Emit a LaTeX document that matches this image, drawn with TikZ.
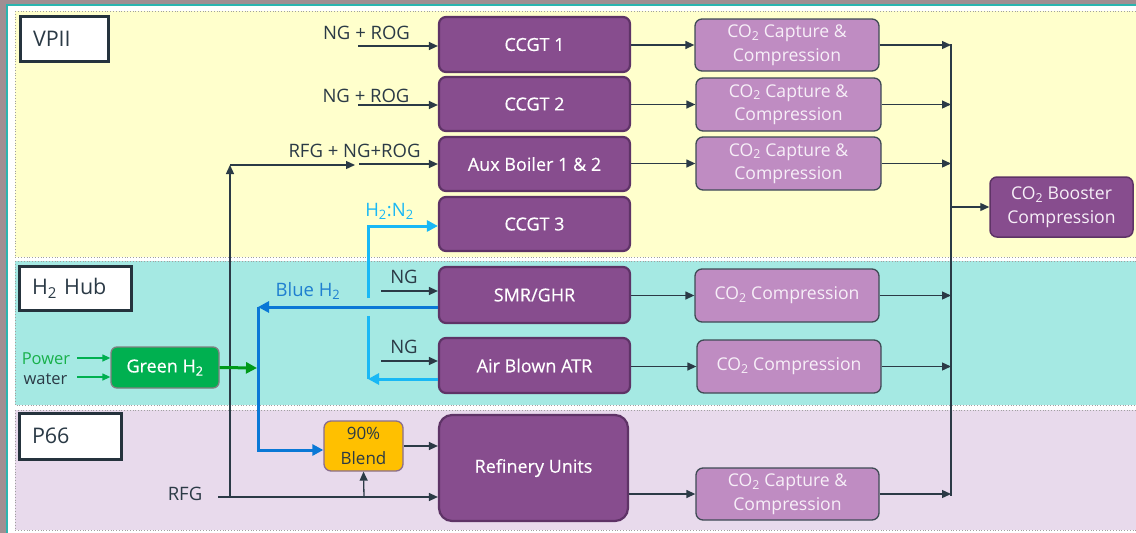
\documentclass[tikz,border=0pt]{standalone}
\usepackage{fontspec}
\setmainfont{Open Sans}
\newfontfamily\mySemi[FakeBold=0.4]{Open Sans}
\usetikzlibrary{arrows.meta}
\definecolor{photo}{HTML}{A08E92}
\definecolor{teal}{HTML}{2BB5B0}
\definecolor{yband}{HTML}{FFFFCC}
\definecolor{cband}{HTML}{A5E9E3}
\definecolor{pband}{HTML}{E8DAEC}
\definecolor{bandedge}{HTML}{A0A0A0}
\definecolor{boxfill}{HTML}{874D8E}
\definecolor{boxedge}{HTML}{5E3366}
\definecolor{lightfill}{HTML}{BF8CC2}
\definecolor{lightedge}{HTML}{3F4B55}
\definecolor{lighttext}{HTML}{F7EFF8}
\definecolor{ink}{HTML}{2B3A46}
\definecolor{tagedge}{HTML}{25333D}
\definecolor{blueh}{HTML}{0A78D6}
\definecolor{bluetext}{HTML}{1F7FD0}
\definecolor{cyanh}{HTML}{19B8F5}
\definecolor{greenfill}{HTML}{00B050}
\definecolor{greenline}{HTML}{009A1A}
\definecolor{greentext}{HTML}{17B04A}
\definecolor{blendfill}{HTML}{FFC000}
\definecolor{blendedge}{HTML}{8A6E8E}
\newcommand\myBoxFont{\mySemi\fontsize{18}{21}\selectfont}
\newcommand\myCapFont{\fontsize{17.6}{23.5}\selectfont}
\newcommand\myLabFont{\fontsize{18.5}{21}\selectfont}
\newcommand\myTagFont{\fontsize{21.5}{26}\selectfont}
\newcommand\myBlendFont{\fontsize{17}{25}\selectfont}
\tikzset{
  dbox/.style={draw=boxedge, line width=2.2pt, fill=boxfill, rounded corners=7pt, text=white, font=\myBoxFont, minimum width=191pt, minimum height=55pt, inner sep=0pt},
  lbox/.style={draw=lightedge, line width=1.3pt, fill=lightfill, rounded corners=7pt, text=lighttext, font=\myCapFont, align=center, minimum width=184pt, minimum height=52pt, inner sep=0pt},
  tagbox/.style={draw=tagedge, line width=3pt, fill=white, font=\myTagFont, text=ink, align=left, inner xsep=13pt, inner ysep=0pt, minimum height=45pt},
  lab/.style={font=\myLabFont, text=ink, inner sep=0pt, anchor=base},
  arr/.style={draw=ink, line width=1.3pt, -{Triangle[length=9pt,width=8pt]}},
  ln/.style={draw=ink, line width=1.3pt},
  bluearr/.style={draw=blueh, line width=3pt, -{Triangle[length=11pt,width=11pt]}},
  cyanarr/.style={draw=cyanh, line width=3pt, -{Triangle[length=11pt,width=11pt]}},
  greenarr/.style={draw=greenline, line width=3pt, -{Triangle[length=11pt,width=11pt]}},
  thingreen/.style={draw=greenfill, line width=1.3pt, -{Triangle[length=8pt,width=7pt]}},
  band/.style={draw=bandedge, line width=0.8pt, dotted}
}
\begin{document}
\begin{tikzpicture}[x=1pt,y=-1pt]
\useasboundingbox (0,0) rectangle (1136,533);
% backdrop
\fill[photo] (0,0) rectangle (1136,533);
\fill[white] (7,5) rectangle (1136,533);
\draw[teal, line width=2pt] (7,533) -- (7,5) -- (1136,5);
% bands
\fill[yband] (15,11) rectangle (1140,257);
\draw[band] (15,11) rectangle (1140,257);
\fill[cband] (15,261) rectangle (1140,405);
\draw[band] (15,261) rectangle (1140,405);
\fill[pband] (15,410) rectangle (1140,530);
\draw[band] (15,410) rectangle (1140,530);
% section tags
\node[tagbox, text width=62pt] (vpii) at (64,38.5) {VPII};
\node[tagbox, text width=86pt, minimum height=44pt] (hub) at (75,288) {H\textsubscript{2} Hub};
\node[tagbox, text width=76pt, minimum height=46pt] (p66) at (70,436) {P66};
% process boxes
\node[dbox] (ccgt1) at (534.5,44.5) {CCGT 1};
\node[dbox, minimum height=54pt] (ccgt2) at (534.5,104) {CCGT 2};
\node[dbox, minimum height=54pt] (aux) at (534.5,164) {Aux Boiler 1 \& 2};
\node[dbox, minimum height=54pt] (ccgt3) at (534.5,224) {CCGT 3};
\node[dbox, minimum height=56pt] (smr) at (534.5,295) {SMR/GHR};
\node[dbox] (atr) at (534.5,365.5) {Air Blown ATR};
\node[dbox, minimum width=189pt, minimum height=106pt, rounded corners=13pt] (ref) at (533.5,468) {Refinery Units};
\node[dbox, minimum width=143pt, minimum height=60pt, align=center, font=\myCapFont, text=lighttext, line width=1.5pt] (boost) at (1061.5,207) {CO\textsubscript{2} Booster\\Compression};
% capture boxes
\node[lbox] (cap1) at (787,45) {CO\textsubscript{2} Capture \&\\Compression};
\node[lbox, minimum width=185pt, minimum height=53pt] (cap2) at (788.5,104.5) {CO\textsubscript{2} Capture \&\\Compression};
\node[lbox, minimum width=185pt, minimum height=53pt] (cap3) at (788.5,163.5) {CO\textsubscript{2} Capture \&\\Compression};
\node[lbox, minimum height=53pt] (comp1) at (787,295.5) {CO\textsubscript{2} Compression};
\node[lbox, minimum height=53pt] (comp2) at (789,366.5) {CO\textsubscript{2} Compression};
\node[lbox, minimum width=183pt] (cap4) at (787.5,494) {CO\textsubscript{2} Capture \&\\Compression};
% hydrogen boxes
\node[draw=gray, line width=1.3pt, fill=greenfill, rounded corners=6pt, minimum width=108pt, minimum height=41pt, inner sep=0pt, text=white, font=\myBoxFont] (green) at (165,367.5) {Green H\textsubscript{2}};
\node[draw=blendedge, line width=1.3pt, fill=blendfill, rounded corners=7pt, minimum width=79pt, minimum height=50pt, inner sep=0pt, text=ink, font=\myBlendFont, align=center] (blend) at (363.5,446) {90\%\\Blend};
% input labels
\node[lab] (t1) at (366.5,39) {NG + ROG};
\node[lab] (t2) at (366,102) {NG + ROG};
\node[lab] (t3) at (354.5,157) {RFG + NG+ROG};
\node[lab, text=cyanh] (t4) at (389.5,216) {H\textsubscript{2}:N\textsubscript{2}};
\node[lab] (t5) at (404,283) {NG};
\node[lab] (t6) at (404,353) {NG};
\node[lab, text=bluetext] (t7) at (308,296) {Blue H\textsubscript{2}};
\node[lab, text=greentext, font=\fontsize{16.5}{20}\selectfont] (t8) at (46,364) {Power};
\node[lab, font=\fontsize{16.5}{20}\selectfont] (t9) at (45.5,384) {water};
\node[lab] (t10) at (185,500) {RFG};
% coordinates
\coordinate (in1) at (358,46);
\coordinate (in2) at (358,105);
\coordinate (in3) at (359,164);
\coordinate (rfgs) at (218,497);
\coordinate (rfgv) at (230,497);
\coordinate (rfgt) at (230,165);
\coordinate (rfge) at (355,165);
\coordinate (rfgb) at (364,497);
\coordinate (ng1) at (381,291);
\coordinate (ng2) at (381,361);
\coordinate (ctop) at (951,44);
\coordinate (cbot) at (951,496);
\coordinate (cb) at (951,207);
\coordinate (cy1) at (368,379);
\coordinate (cy2) at (368,316);
\coordinate (cy3) at (368,298);
\coordinate (cy4) at (368,226);
\coordinate (bl1) at (258,307);
\coordinate (bl2) at (258,450);
\coordinate (gr) at (257,368);
\coordinate (pw) at (77,358);
\coordinate (wt) at (77,377);
% fuel inputs
\draw[arr] (in1) -- (in1 -| ccgt1.west);
\draw[arr] (in2) -- (in2 -| ccgt2.west);
\draw[arr] (in3) -- (in3 -| aux.west);
\draw[arr] (rfgv) -- (rfgt);
\draw[arr] (rfgt) -- (rfge);
\draw[arr] (ng1) -- (ng1 -| smr.west);
\draw[arr] (ng2) -- (ng2 -| atr.west);
\draw[arr] (rfgs) -- (rfgs -| ref.west);
\draw[arr] (rfgb) -- (blend.south);
\draw[arr] (blend.east) -- (blend.east -| ref.west);
% to capture
\draw[arr] (ccgt1.east |- cap1.west) -- (cap1.west);
\draw[arr] (ccgt2.east |- cap2.west) -- (cap2.west);
\draw[arr] (aux.east |- cap3.west) -- (cap3.west);
\draw[arr] (smr.east |- comp1.west) -- (comp1.west);
\draw[arr] (atr.east |- comp2.west) -- (comp2.west);
\draw[arr] (ref.east |- cap4.west) -- (cap4.west);
% collector
\draw[ln] (ctop) -- (cbot);
\draw[arr] (cap1.east) -- (cap1.east -| ctop);
\draw[arr] (cap2.east) -- (cap2.east -| ctop);
\draw[arr] (cap3.east) -- (cap3.east -| ctop);
\draw[arr] (comp1.east) -- (comp1.east -| ctop);
\draw[arr] (comp2.east) -- (comp2.east -| ctop);
\draw[arr] (cap4.east) -- (cap4.east -| ctop);
\draw[arr] (cb) -- (boost.west);
% hydrogen flows
\draw[cyanarr] (cy1 -| atr.west) -- (cy1);
\draw[draw=cyanh, line width=3pt] (cy1) -- (cy2);
\draw[cyanarr] (cy3) -- (cy4) -- (cy4 -| ccgt3.west);
\draw[bluearr] (bl1 -| smr.west) -- (bl1);
\draw[bluearr] (bl1) -- (bl2) -- (bl2 -| blend.west);
\draw[greenarr] (green.east) -- (gr);
\draw[thingreen] (pw) -- (pw -| green.west);
\draw[thingreen] (wt) -- (wt -| green.west);
\end{tikzpicture}
\end{document}
